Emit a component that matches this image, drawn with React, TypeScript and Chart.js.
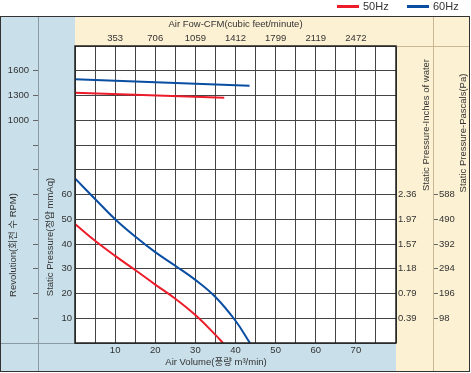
import React, { useEffect, useRef } from 'react';
import { Chart, registerables } from 'chart.js';

Chart.register(...registerables);

// ---- tick labels ----
const volumeTicks = [10, 20, 30, 40, 50, 60, 70];
const cfmLabels = ['353', '706', '1059', '1412', '1799', '2119', '2472'];
const pressureTicks = [10, 20, 30, 40, 50, 60];
const inchLabels = ['0.39', '0.79', '1.18', '1.57', '1.97', '2.36'];
const pascalLabels = ['98', '196', '294', '392', '490', '588'];
const rpmTicks = [1000, 1300, 1600];

// ---- series ----
const seriesNames = ['50Hz', '60Hz'];
const seriesColors = ['#ec1c2a', '#0a4ea2'];

const pressureVolume50 = [0, 5, 10, 15, 20, 25, 30, 35, 36.9];
const pressure50 = [48.1, 41.3, 35.2, 29.5, 23.6, 17.9, 11.3, 3.3, 0];
const pressureVolume60 = [0, 5, 10, 15, 20, 25, 30, 35, 40, 43.6];
const pressure60 = [66.5, 58.2, 50, 43, 36.7, 31.2, 25.5, 18.6, 9, 0];

const rpmVolume50 = [0, 37.2];
const rpm50 = [1334, 1273];
const rpmVolume60 = [0, 43.5];
const rpm60 = [1496, 1419];

const FONT = "'Liberation Sans', Arial, 'Noto Sans CJK KR', sans-serif";
const BLUE = '#c9dfe9';
const YELLOW = '#fdf1d3';
const TEXT = '#333';

const zip = (xs: number[], ys: number[]) => xs.map((x, i) => ({ x, y: ys[i] }));

function vtext(ctx: CanvasRenderingContext2D, text: string, x: number, y: number) {
  ctx.save();
  ctx.translate(x, y);
  ctx.rotate(-Math.PI / 2);
  ctx.textAlign = 'center';
  ctx.textBaseline = 'middle';
  ctx.fillText(text, 0, 0);
  ctx.restore();
}

const framePlugin = {
  id: 'framePlugin',
  beforeDraw(chart: any) {
    const { ctx, chartArea: a, width, height } = chart;
    const top = 16;
    const bottom = 371;
    const right = 469;
    ctx.save();
    ctx.fillStyle = '#fff';
    ctx.fillRect(0, 0, width, height);
    ctx.fillStyle = BLUE;
    ctx.fillRect(0, top, a.left, bottom - top);
    ctx.fillRect(0, a.bottom, a.right, bottom - a.bottom);
    ctx.fillStyle = YELLOW;
    ctx.fillRect(a.left, top, right - a.left, a.top - top);
    ctx.fillRect(a.right, top, right - a.right, bottom - top);
    ctx.fillStyle = '#fff';
    ctx.fillRect(a.left, a.top, a.right - a.left, a.bottom - a.top);
    ctx.restore();
  },
  afterDraw(chart: any) {
    const { ctx, chartArea: a } = chart;
    const top = 16;
    const bottom = 371;
    const right = 469;
    const sepL = chart.scales.rpm.right;
    const sepR = chart.scales.pa.left;
    ctx.save();
    ctx.lineWidth = 1;
    // left separators
    ctx.strokeStyle = '#8a9aa2';
    ctx.beginPath();
    ctx.moveTo(Math.round(sepL) + 0.5, top);
    ctx.lineTo(Math.round(sepL) + 0.5, bottom);
    ctx.moveTo(0, Math.round(a.bottom) + 0.5);
    ctx.lineTo(a.left, Math.round(a.bottom) + 0.5);
    ctx.stroke();
    // right separators
    ctx.strokeStyle = '#c8b896';
    ctx.beginPath();
    ctx.moveTo(Math.round(sepR) + 0.5, top);
    ctx.lineTo(Math.round(sepR) + 0.5, bottom);
    ctx.moveTo(a.right, Math.round(a.top) + 0.5);
    ctx.lineTo(right, Math.round(a.top) + 0.5);
    ctx.stroke();
    // outer border
    ctx.strokeStyle = '#333';
    ctx.strokeRect(0.5, top + 0.5, right, bottom - top);
    // plot frame
    ctx.lineWidth = 1.5;
    ctx.strokeStyle = '#222';
    ctx.strokeRect(a.left, a.top, a.right - a.left, a.bottom - a.top);

    // titles
    ctx.fillStyle = TEXT;
    ctx.font = `9.5px ${FONT}`;
    ctx.textAlign = 'center';
    ctx.textBaseline = 'middle';
    ctx.fillText('Air Fow-CFM(cubic feet/minute)', (a.left + a.right) / 2, 24);
    ctx.fillText('Air Volume(풍량 m³/min)', 216, 362);
    vtext(ctx, 'Revolution(회전 수 RPM)', 13, 245);
    vtext(ctx, 'Static Pressure(정압 mmAq)', 50, 237);
    vtext(ctx, 'Static Pressure-Inches of water', 426, 125);
    vtext(ctx, 'Static Pressure-Pascals(Pa)', 463, 133);

    // legend
    ctx.font = `11px ${FONT}`;
    ctx.textAlign = 'left';
    const legendX = [337, 407];
    seriesNames.forEach((name, i) => {
      ctx.fillStyle = seriesColors[i];
      ctx.fillRect(legendX[i], 5, 22, 3);
      ctx.fillStyle = TEXT;
      ctx.fillText(name, legendX[i] + 26, 7);
    });
    ctx.restore();
  },
};

const tickFont = { family: FONT, size: 9.5 };

export default function App() {
  const ref = useRef<HTMLCanvasElement | null>(null);

  useEffect(() => {
    if (!ref.current) return;
    const chart = new Chart(ref.current, {
      type: 'line',
      data: {
        datasets: [
          {
            label: seriesNames[0] + ' pressure',
            data: zip(pressureVolume50, pressure50),
            borderColor: seriesColors[0],
            xAxisID: 'x',
            yAxisID: 'y',
          },
          {
            label: seriesNames[1] + ' pressure',
            data: zip(pressureVolume60, pressure60),
            borderColor: seriesColors[1],
            xAxisID: 'x',
            yAxisID: 'y',
          },
          {
            label: seriesNames[0] + ' rpm',
            data: zip(rpmVolume50, rpm50),
            borderColor: seriesColors[0],
            xAxisID: 'x',
            yAxisID: 'rpm',
          },
          {
            label: seriesNames[1] + ' rpm',
            data: zip(rpmVolume60, rpm60),
            borderColor: seriesColors[1],
            xAxisID: 'x',
            yAxisID: 'rpm',
          },
        ],
      },
      options: {
        animation: false,
        responsive: false,
        devicePixelRatio: 1,
        layout: { padding: { top: 16, right: 2, bottom: 2, left: 0 } },
        elements: {
          line: { borderWidth: 2, tension: 0.4, fill: false },
          point: { radius: 0 },
        },
        plugins: { legend: { display: false }, title: { display: false }, tooltip: { enabled: false } },
        scales: {
          x: {
            type: 'linear',
            position: 'bottom',
            min: 0,
            max: 80,
            grid: { color: '#444', lineWidth: 1, drawTicks: false },
            border: { display: false },
            ticks: {
              stepSize: 5,
              autoSkip: false,
              maxRotation: 0,
              padding: 2,
              color: TEXT,
              font: tickFont,
              callback: (v: any) => (volumeTicks.includes(v) ? String(v) : ''),
            },
            afterFit: (s: any) => { s.height = 28; },
          },
          x2: {
            type: 'linear',
            position: 'top',
            min: 0,
            max: 80,
            grid: { display: false, drawTicks: false },
            border: { display: false },
            ticks: {
              stepSize: 10,
              autoSkip: false,
              maxRotation: 0,
              padding: 2,
              color: TEXT,
              font: tickFont,
              callback: (v: any) => {
                const i = volumeTicks.indexOf(v);
                return i >= 0 ? cfmLabels[i] : '';
              },
            },
            afterFit: (s: any) => { s.height = 30; },
          },
          y: {
            type: 'linear',
            position: 'left',
            weight: 0,
            min: 0,
            max: 120,
            grid: { color: '#444', lineWidth: 1, drawTicks: false },
            border: { display: false },
            ticks: {
              stepSize: 10,
              autoSkip: false,
              padding: 3,
              color: TEXT,
              font: tickFont,
              callback: (v: any) => (pressureTicks.includes(v) ? String(v) : ''),
            },
            afterFit: (s: any) => { s.width = 37; },
          },
          rpm: {
            type: 'linear',
            position: 'left',
            weight: 1,
            min: -1700,
            max: 1900,
            grid: {
              drawOnChartArea: false,
              drawTicks: true,
              tickLength: 5,
              color: (c: any) => (c.tick && c.tick.value > -1700 && c.tick.value < 1900 ? '#666' : 'rgba(0,0,0,0)'),
            },
            border: { display: false },
            ticks: {
              stepSize: 300,
              autoSkip: false,
              padding: 4,
              color: TEXT,
              font: tickFont,
              callback: (v: any) => (rpmTicks.includes(v) ? String(v) : ''),
            },
            afterFit: (s: any) => { s.width = 38; },
          },
          inch: {
            type: 'linear',
            position: 'right',
            weight: 0,
            min: 0,
            max: 120,
            grid: { display: false, drawTicks: false },
            border: { display: false },
            ticks: {
              stepSize: 10,
              autoSkip: false,
              padding: 2,
              color: TEXT,
              font: tickFont,
              callback: (v: any) => {
                const i = pressureTicks.indexOf(v);
                return i >= 0 ? inchLabels[i] : '';
              },
            },
            afterFit: (s: any) => { s.width = 37; },
          },
          pa: {
            type: 'linear',
            position: 'right',
            weight: 1,
            min: 0,
            max: 120,
            grid: {
              drawOnChartArea: false,
              drawTicks: true,
              tickLength: 5,
              color: (c: any) => (c.tick && pressureTicks.includes(c.tick.value) ? '#666' : 'rgba(0,0,0,0)'),
            },
            border: { display: false },
            ticks: {
              stepSize: 10,
              autoSkip: false,
              padding: 1,
              color: TEXT,
              font: tickFont,
              callback: (v: any) => {
                const i = pressureTicks.indexOf(v);
                return i >= 0 ? pascalLabels[i] : '';
              },
            },
            afterFit: (s: any) => { s.width = 36; },
          },
        },
      } as any,
      plugins: [framePlugin],
    });
    return () => chart.destroy();
  }, []);

  return (
    <div style={{ position: 'fixed', left: 0, top: 0, width: 471, height: 373, background: '#fff' }}>
      <canvas ref={ref} width={471} height={373} style={{ display: 'block', width: 471, height: 373 }} />
    </div>
  );
}
